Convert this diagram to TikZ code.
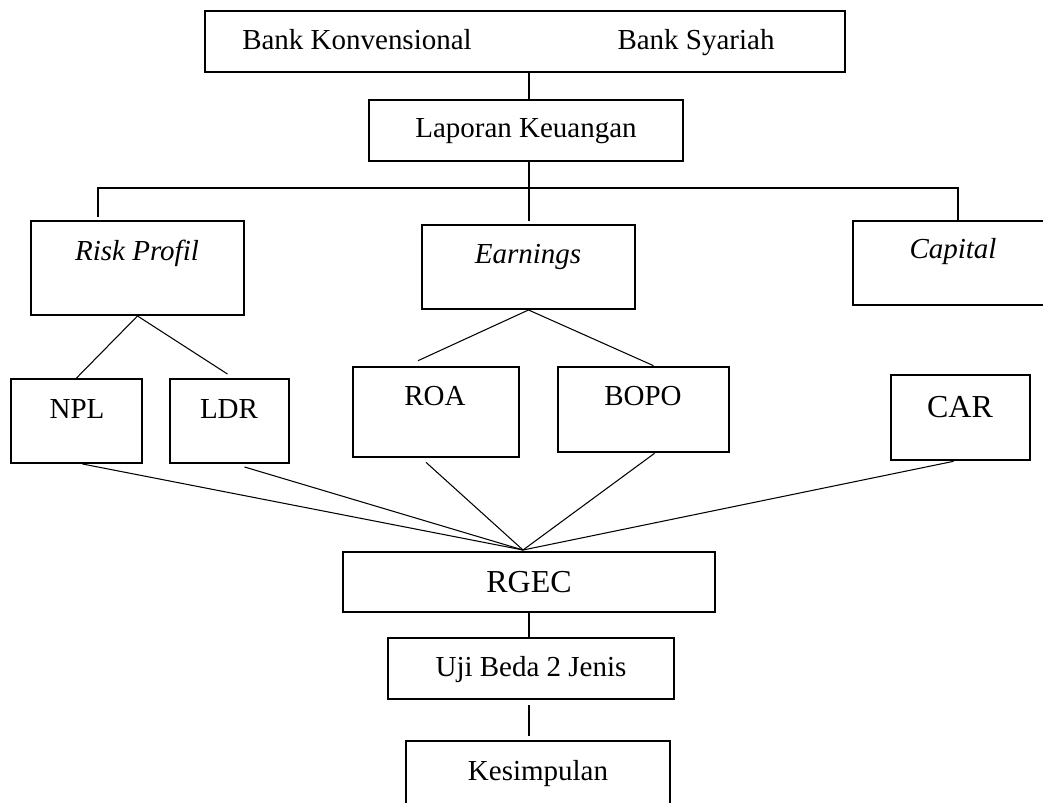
\documentclass[tikz,border=0pt]{standalone}
\usepackage{fontspec}
\setmainfont{Liberation Serif}
\usetikzlibrary{calc,fit}

\begin{document}
\begin{tikzpicture}[x=0.02cm, y=-0.02cm,
  box/.style={draw, line width=1.1pt, inner sep=0pt},
  thickbox/.style={box, line width=1.5pt},
  txt/.style={anchor=base, inner sep=0pt, font=\fontsize{16.5}{19}\selectfont},
  bigtxt/.style={txt, font=\fontsize{18.2}{21}\selectfont},
  conn/.style={line width=0.6pt},
  tree/.style={line width=1pt}]
 \useasboundingbox (0,0) rectangle (1043,802);
 \clip (0,0) rectangle (1043,802);
 % boxes
 \node[box, fit={(205,11) (845,72)}] (bank) {};
 \node[box, fit={(369,100) (683,161)}] (lap) {};
 \node[box, fit={(31,221) (244,315)}] (rp) {};
 \node[box, fit={(422,225) (635,309)}] (earn) {};
 \node[box, fit={(853,221) (1060,305)}] (cap) {};
 \node[box, fit={(11,379) (142,463)}] (npl) {};
 \node[box, fit={(170,379) (289,463)}] (ldr) {};
 \node[thickbox, fit={(353,367) (519,457)}] (roa) {};
 \node[thickbox, fit={(558,367) (729,452)}] (bopo) {};
 \node[thickbox, fit={(891,375) (1030,460)}] (car) {};
 \node[box, fit={(343,552) (715,612)}] (rgec) {};
 \node[box, fit={(388,638) (674,699)}] (uji) {};
 \node[thickbox, fit={(406,741) (670,820)}] (kes) {};
 % texts
 \node[txt] (tbk) at (357,49) {Bank Konvensional};
 \node[txt] (tbs) at (696,49) {Bank Syariah};
 \node[txt] (tlap) at (526,137) {Laporan Keuangan};
 \node[txt] (trp) at (137,260) {\itshape Risk Profil};
 \node[txt] (tearn) at (528,263) {\itshape Earnings};
 \node[txt] (tcap) at (953,258) {\itshape Capital};
 \node[txt] (tnpl) at (77,418) {NPL};
 \node[txt] (tldr) at (229,418) {LDR};
 \node[txt] (troa) at (435,405) {ROA};
 \node[txt] (tbopo) at (643,405) {BOPO};
 \node[bigtxt] (tcar) at (960,417) {CAR};
 \node[bigtxt] (trgec) at (529,592) {RGEC};
 \node[txt] (tuji) at (531,676) {Uji Beda 2 Jenis};
 \node[txt] (tkes) at (538,780) {Kesimpulan};
 % tree
 \coordinate (spine) at (529,0);
 \coordinate (barL) at (98,188);
 \coordinate (barR) at (958,188);
 \coordinate (hub) at (523,550);
 \draw[tree] (bank.south -| spine) -- (lap.north -| spine);
 \draw[tree] (lap.south -| spine) -- ($(earn.north -| spine)+(0,-3)$);
 \draw[tree] ($(rp.north -| barL)+(0,-3)$) -- (barL) -- (barR) -- (cap.north -| barR);
 \draw[conn] (rp.south) -- (npl.north);
 \draw[conn] (rp.south) -- ($(ldr.north)+(-2,-4)$);
 \draw[conn] (earn.south) -- ($(roa.north)+(-18,-5)$);
 \draw[conn] (earn.south) -- ($(bopo.north)+(10,0)$);
 \foreach \n/\dx/\dy in {npl/6/0, ldr/15/3, roa/-10/4, bopo/11/0, car/-7/0}
   \draw[conn] ($(\n.south)+(\dx,\dy)$) -- (hub);
 \draw[conn] (rgec.south -| spine) -- (uji.north -| spine);
 \draw[conn, shorten <=3pt, shorten >=2pt] (uji.south -| spine) -- (kes.north -| spine);
\end{tikzpicture}
\end{document}
